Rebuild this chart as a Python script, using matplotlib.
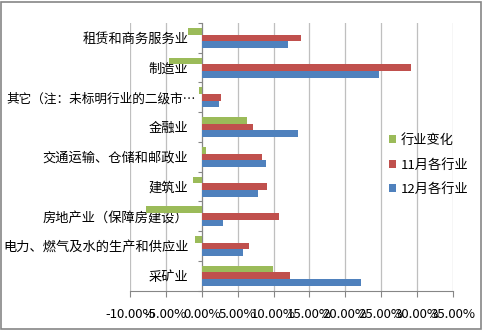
import matplotlib
matplotlib.use("Agg")
import matplotlib.pyplot as plt
from matplotlib.patches import Rectangle
from matplotlib.ticker import PercentFormatter, FixedLocator
import matplotlib.transforms as mtransforms
import numpy as np

plt.rcParams['font.family'] = ['Noto Sans CJK SC', 'DejaVu Sans']
plt.rcParams['axes.unicode_minus'] = False

# Categories listed bottom to top (barh draws the first one at the bottom)
categories = [
    "采矿业",
    "电力、燃气及水的生产和供应业",
    "房地产业（保障房建设）",
    "建筑业",
    "交通运输、仓储和邮政业",
    "金融业",
    "其它（注：未标明行业的二级市…",
    "制造业",
    "租赁和商务服务业",
]
change = [9.9, -0.88, -7.8, -1.26, 0.6, 6.35, -0.33, -4.5, -1.86]      # 行业变化
nov = [12.34, 6.63, 10.81, 9.14, 8.36, 7.10, 2.69, 29.2, 13.83]        # 11月各行业
dec = [22.23, 5.75, 2.97, 7.88, 8.96, 13.45, 2.36, 24.7, 11.97]        # 12月各行业
x_ticks = [-10, -5, 0, 5, 10, 15, 20, 25, 30, 35]

GREEN, RED, BLUE = "#9BBB59", "#C0504D", "#4F81BD"
GRID = "#BFBFBF"
AXIS = "#868686"
FS = 9.5

fig = plt.figure(figsize=(4.82, 3.30), dpi=100)
ax = fig.add_axes([130 / 482, 39.3 / 330, 323 / 482, 267.7 / 330])

y = np.arange(len(categories))
h = 0.225
ax.barh(y + h, change, height=h, color=GREEN, label="行业变化", zorder=3)
ax.barh(y, nov, height=h, color=RED, label="11月各行业", zorder=3)
ax.barh(y - h, dec, height=h, color=BLUE, label="12月各行业", zorder=3)

ax.set_xlim(x_ticks[0], x_ticks[-1])
ax.set_ylim(-0.5, len(categories) - 0.5)

# value axis
ax.xaxis.set_major_locator(FixedLocator(x_ticks))
ax.xaxis.set_major_formatter(PercentFormatter(xmax=100, decimals=2))
ax.tick_params(axis='x', direction='out', length=4, width=0.8, color=AXIS,
               labelsize=FS, pad=8.5, labelcolor='black')
ax.grid(axis='x', color=GRID, linewidth=0.9, zorder=0)

# category axis crossing at zero
ax.spines['left'].set_position(('data', 0))
ax.spines['left'].set_color(AXIS)
ax.spines['bottom'].set_color(AXIS)
ax.spines['top'].set_visible(False)
ax.spines['right'].set_visible(False)
ax.set_yticks(y)
ax.set_yticklabels(categories)
ax.set_yticks(np.arange(-0.5, len(categories)), minor=True)
ax.tick_params(axis='y', which='major', length=0, pad=9.5, labelsize=FS,
               labelcolor='black')
ax.tick_params(axis='y', which='minor', direction='out', length=3,
               width=0.8, color=AXIS)

# the truncated label is a touch smaller and sits closer to the axis
lab = ax.get_yticklabels()[6]
lab.set_fontsize(9.1)
lab.set_transform(lab.get_transform() +
                  mtransforms.ScaledTranslation(7 / 100, 0, fig.dpi_scale_trans))

leg = fig.legend(loc='center left', bbox_to_anchor=(389 / 482, 165 / 330),
                 frameon=False, fontsize=FS, handlelength=0.55,
                 handleheight=0.55, handletextpad=0.35, labelspacing=0.88,
                 borderpad=0, borderaxespad=0)

# chart area border
fig.add_artist(Rectangle((0.002, 0.003), 0.995, 0.992, transform=fig.transFigure,
                         fill=False, edgecolor=AXIS, linewidth=1.2))

fig.savefig("out.png", dpi=100)
